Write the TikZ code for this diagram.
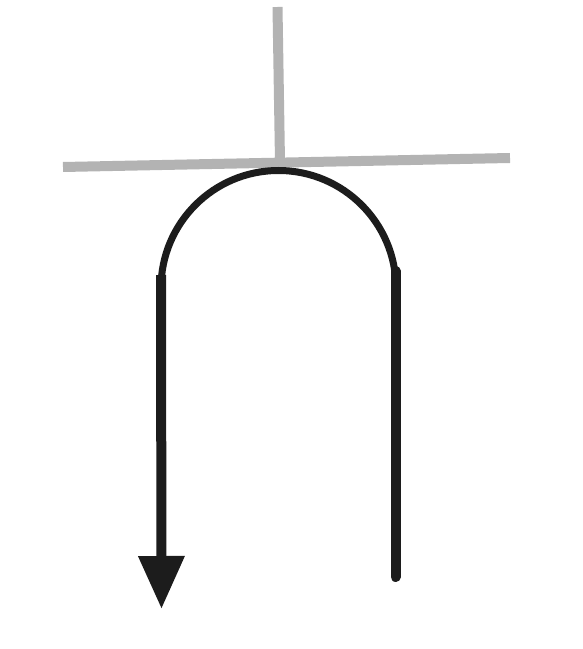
\documentclass[tikz,border=0pt]{standalone}
\usetikzlibrary{arrows.meta}
\definecolor{bargray}{HTML}{B3B3B3}
\definecolor{inkblack}{HTML}{1C1C1C}
\tikzset{
  graybar/.style={draw=bargray, line width=10pt, line cap=butt},
  uarc/.style={draw=inkblack, line width=7pt},
  uleg/.style={draw=inkblack, line width=10pt},
}
\begin{document}
\begin{tikzpicture}[x=1pt,y=1pt]
\useasboundingbox (0,0) rectangle (582,649);
% gray cross
\coordinate (hl) at (63,482);
\coordinate (hr) at (510,491);
\coordinate (vt) at (277.5,642);
\coordinate (vb) at (280,487);
\draw[graybar] (hl) -- (hr);
\draw[graybar] (vt) -- (vb);
% U shape
\coordinate (al) at (161,361);
\coordinate (ltop) at (161,374);
\coordinate (ltip) at (161.5,40);
\coordinate (rtop) at (395.5,378);
\coordinate (rbot) at (395.5,72);
\draw[uarc] (al) arc[start angle=180, end angle=0, radius=117.5];
\draw[uleg, -{Triangle[length=53pt,width=44pt]}] (ltop) -- (ltip);
\draw[uleg, line cap=round] (rtop) -- (rbot);
\end{tikzpicture}
\end{document}
